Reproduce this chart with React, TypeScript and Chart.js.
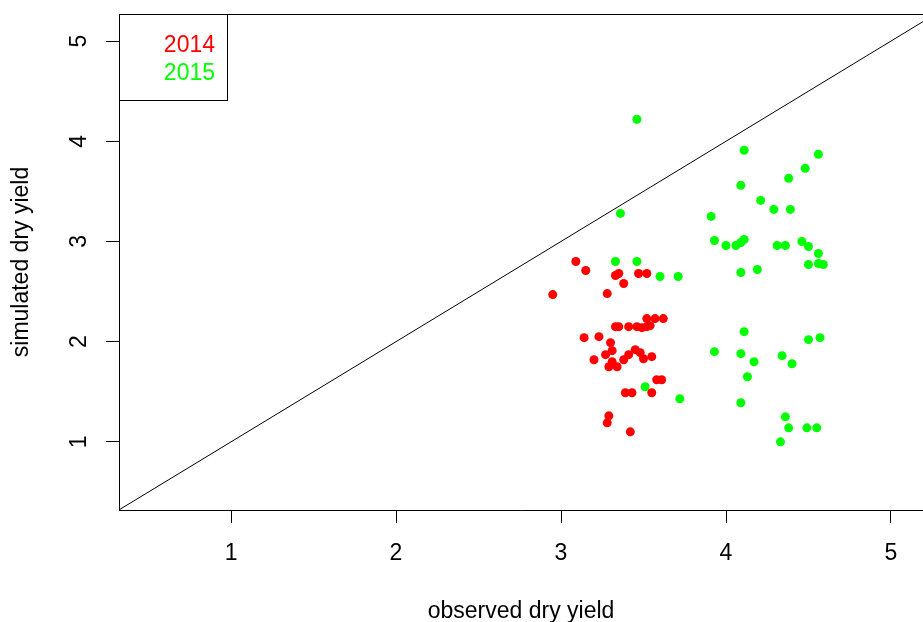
import React, { useEffect, useRef } from "react";
import { Chart, registerables } from "chart.js";

Chart.register(...registerables);

const obs2014 = [3.09, 3.15, 3.33, 3.35, 3.47, 3.52, 3.38, 2.95, 3.28, 3.52, 3.57, 3.62, 3.33, 3.35, 3.41, 3.46, 3.49, 3.52, 3.54, 3.14, 3.23, 3.3, 3.31, 3.2, 3.27, 3.31, 3.29, 3.34, 3.38, 3.41, 3.45, 3.48, 3.5, 3.55, 3.58, 3.61, 3.55, 3.39, 3.43, 3.29, 3.28, 3.42];
const sim2014 = [2.8, 2.71, 2.66, 2.68, 2.68, 2.68, 2.58, 2.47, 2.48, 2.23, 2.23, 2.23, 2.15, 2.15, 2.15, 2.15, 2.14, 2.15, 2.16, 2.04, 2.05, 1.99, 1.91, 1.82, 1.87, 1.8, 1.75, 1.75, 1.82, 1.87, 1.92, 1.89, 1.83, 1.85, 1.62, 1.62, 1.49, 1.49, 1.49, 1.26, 1.19, 1.1];
const obs2015 = [3.33, 3.46, 3.6, 3.71, 3.51, 3.72, 3.46, 3.36, 4.11, 4.56, 4.48, 4.38, 4.09, 4.21, 4.29, 4.39, 3.91, 3.93, 4.0, 4.06, 4.09, 4.11, 4.31, 4.36, 4.46, 4.5, 4.56, 4.5, 4.56, 4.59, 4.09, 4.19, 4.11, 3.93, 4.09, 4.17, 4.13, 4.34, 4.4, 4.5, 4.57, 4.09, 4.36, 4.38, 4.49, 4.55, 4.33];
const sim2015 = [2.8, 2.8, 2.65, 2.65, 1.55, 1.43, 4.22, 3.28, 3.91, 3.87, 3.73, 3.63, 3.56, 3.41, 3.32, 3.32, 3.25, 3.01, 2.96, 2.96, 2.99, 3.02, 2.96, 2.96, 3.0, 2.95, 2.88, 2.77, 2.78, 2.77, 2.69, 2.72, 2.1, 1.9, 1.88, 1.8, 1.65, 1.86, 1.78, 2.02, 2.04, 1.39, 1.25, 1.14, 1.14, 1.14, 1.0];
const diagX = [0, 6];
const xTicks = [1, 2, 3, 4, 5];
const yTicks = [1, 2, 3, 4, 5];
const seriesLabels = ["2014", "2015"];
const seriesColors = ["#FF0000", "#00FF00"];

const FONT = "'Liberation Sans', Arial, sans-serif";

const framePlugin = {
  id: "frameAndLegend",
  afterDatasetsDraw(chart: any) {
    const { ctx, chartArea } = chart;
    ctx.save();
    ctx.strokeStyle = "#000";
    ctx.lineWidth = 1;
    ctx.beginPath();
    ctx.moveTo(chartArea.left, chartArea.top + 0.5);
    ctx.lineTo(chartArea.right, chartArea.top + 0.5);
    ctx.stroke();
    const bx = chartArea.left;
    const by = chartArea.top;
    const bw = 108;
    const bh = 86;
    ctx.fillStyle = "#fff";
    ctx.fillRect(bx, by, bw, bh);
    ctx.strokeRect(bx + 0.5, by + 0.5, bw, bh);
    ctx.font = `23px ${FONT}`;
    ctx.textAlign = "right";
    ctx.textBaseline = "middle";
    seriesLabels.forEach((lab, i) => {
      ctx.fillStyle = seriesColors[i];
      ctx.fillText(lab, bx + 96, by + 32 + i * 28);
    });
    ctx.restore();
  },
};

export default function App() {
  const ref = useRef<HTMLCanvasElement>(null);
  useEffect(() => {
    if (!ref.current) return;
    const d2014 = obs2014.map((x, i) => ({ x, y: sim2014[i] }));
    const d2015 = obs2015.map((x, i) => ({ x, y: sim2015[i] }));
    const diag = diagX.map((v) => ({ x: v, y: v }));
    const chart = new Chart(ref.current, {
      type: "scatter",
      data: {
        datasets: [
          {
            type: "line",
            label: "1:1",
            data: diag,
            borderColor: "#000",
            borderWidth: 1,
            pointRadius: 0,
            fill: false,
          } as any,
          {
            label: seriesLabels[0],
            data: d2014,
            backgroundColor: seriesColors[0],
            borderColor: seriesColors[0],
            pointRadius: 4.5,
            borderWidth: 0,
          },
          {
            label: seriesLabels[1],
            data: d2015,
            backgroundColor: seriesColors[1],
            borderColor: seriesColors[1],
            pointRadius: 4.5,
            borderWidth: 0,
          },
        ],
      },
      options: {
        animation: false,
        responsive: false,
        devicePixelRatio: 1,
        layout: { autoPadding: false, padding: { top: 14, left: 0, right: 0, bottom: 0 } },
        plugins: { legend: { display: false }, tooltip: { enabled: false } },
        scales: {
          x: {
            type: "linear",
            min: 0.321,
            max: 5.194,
            afterBuildTicks: (s: any) => {
              s.ticks = xTicks.map((v) => ({ value: v }));
            },
            afterFit: (s: any) => {
              s.height = 112;
              s.paddingLeft = 0;
              s.paddingRight = 0;
              s.paddingTop = 0;
              s.paddingBottom = 0;
            },
            grid: {
              drawOnChartArea: false,
              drawTicks: true,
              tickLength: 13,
              color: "#000",
            },
            border: { display: true, color: "#000", width: 1 },
            ticks: {
              autoSkip: false,
              maxRotation: 0,
              padding: 17,
              color: "#000",
              font: { family: FONT, size: 23 },
            },
            title: {
              display: true,
              text: "observed dry yield",
              color: "#000",
              font: { family: FONT, size: 23 },
              padding: { top: 0, bottom: -3 },
            },
          },
          y: {
            type: "linear",
            min: 0.32,
            max: 5.27,
            afterBuildTicks: (s: any) => {
              s.ticks = yTicks.map((v) => ({ value: v }));
            },
            afterFit: (s: any) => {
              s.width = 119;
              s.paddingLeft = 0;
              s.paddingRight = 0;
              s.paddingTop = 0;
              s.paddingBottom = 0;
            },
            grid: {
              drawOnChartArea: false,
              drawTicks: true,
              tickLength: 13,
              color: "#000",
            },
            border: { display: true, color: "#000", width: 1 },
            ticks: {
              autoSkip: false,
              minRotation: 90,
              maxRotation: 90,
              crossAlign: "center",
              padding: 20,
              color: "#000",
              font: { family: FONT, size: 23 },
            },
            title: {
              display: true,
              text: "simulated dry yield",
              color: "#000",
              font: { family: FONT, size: 23 },
              padding: { top: 8, bottom: 0 },
            },
          },
        },
      },
      plugins: [framePlugin],
    });
    return () => chart.destroy();
  }, []);
  return (
    <div style={{ position: "absolute", left: 0, top: 0, width: 923, height: 622, background: "#fff", overflow: "hidden" }}>
      <canvas ref={ref} width={923} height={622} style={{ width: 923, height: 622, display: "block" }} />
    </div>
  );
}
